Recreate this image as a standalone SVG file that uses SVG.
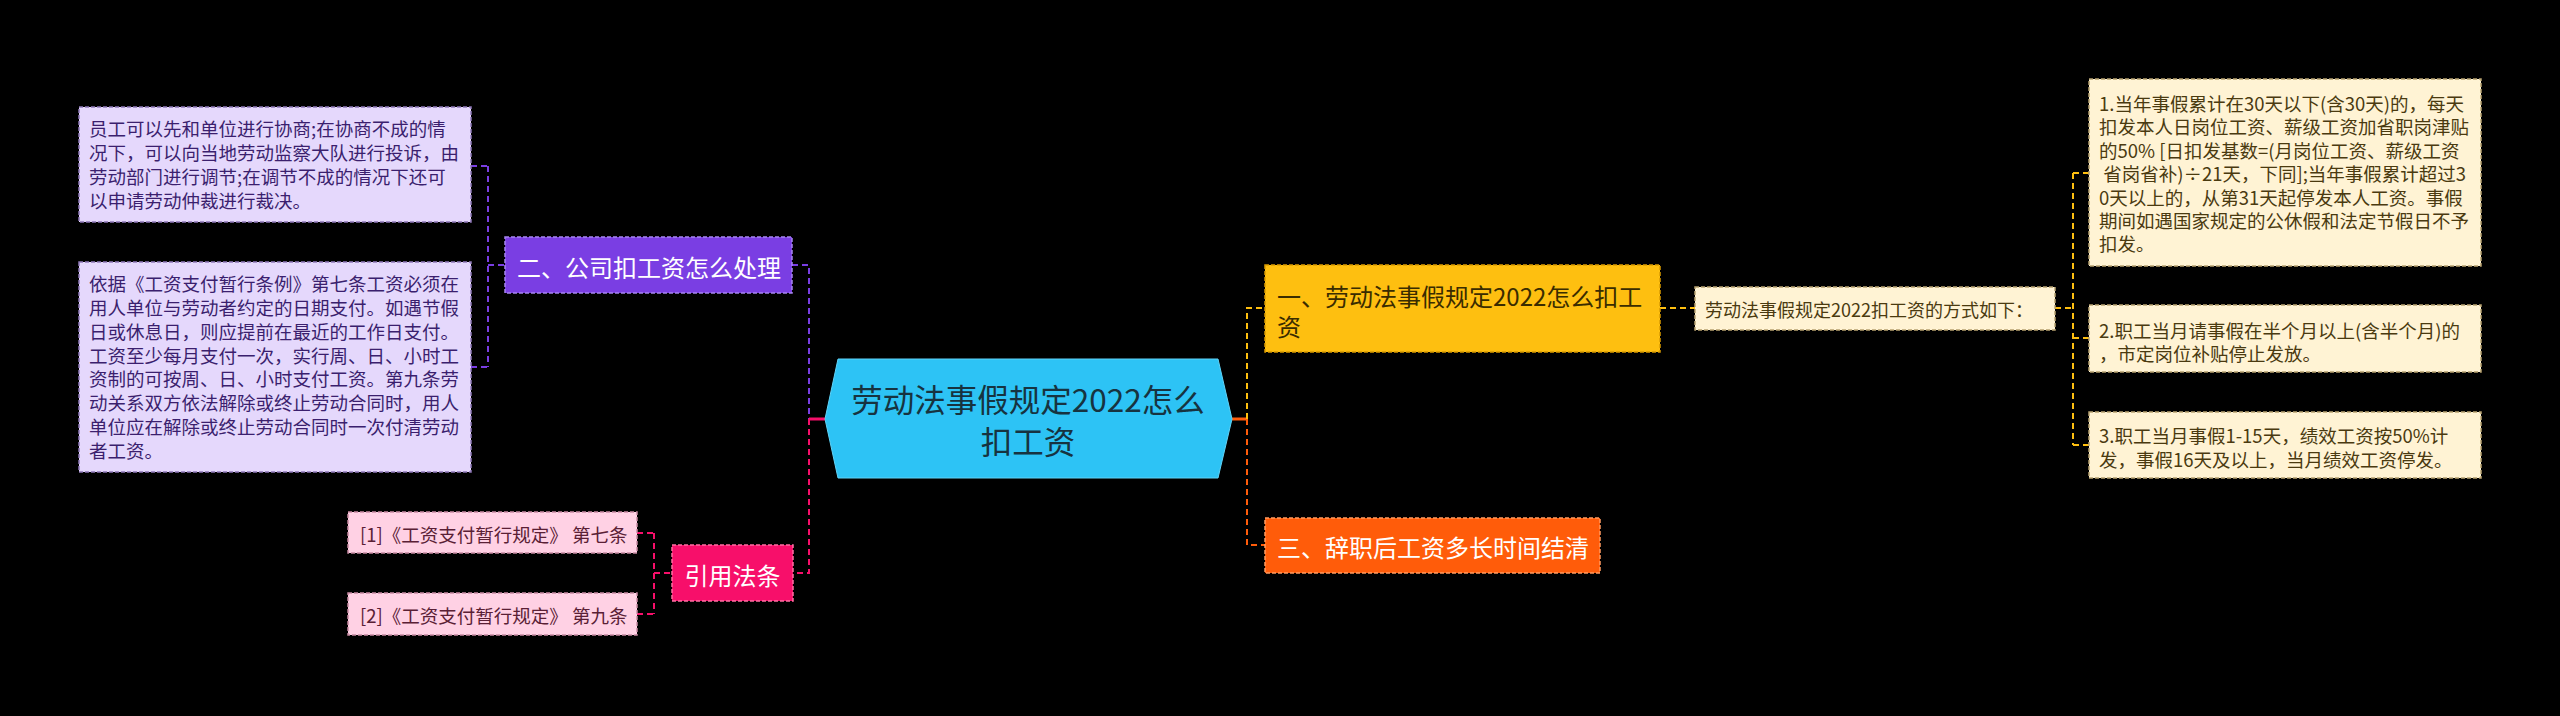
<svg xmlns="http://www.w3.org/2000/svg" width="2560" height="716" viewBox="0 0 2560 716">
<style>
text{font-family:"Noto Sans CJK SC","Noto Sans",sans-serif;dominant-baseline:central}
.leaf{font-size:18.5px}
.main{font-size:24px}
.c{fill:none;stroke-width:2;stroke-dasharray:6 4}
.nb{stroke-width:1.5;stroke-dasharray:4 2}
</style>
<rect x="0" y="0" width="2560" height="716" fill="#000"/>
<g id="connectors">
  <path class="c" stroke="#7A3EE3" d="M471 166 H488 M471 367 H488 M488 166 V367 M488 265 H505"/>
  <path class="c" stroke="#7A3EE3" d="M792 265 H809 V419"/>
  <path class="c" stroke="#F70F6A" d="M809 419 V573 H793"/>
  <path stroke="#F70F6A" stroke-width="3" fill="none" d="M809 419 H825"/>
  <path class="c" stroke="#F70F6A" d="M637 533 H654 M637 614 H654 M654 533 V614 M654 573 H672"/>
  <path stroke="#FF5C0A" stroke-width="3" fill="none" d="M1232 419 H1247"/>
  <path class="c" stroke="#FEBF10" d="M1247 419 V308 H1265"/>
  <path class="c" stroke="#FF5C0A" d="M1247 419 V545 H1265"/>
  <path class="c" stroke="#FEBF10" d="M1660 308 H1695"/>
  <path class="c" stroke="#FEBF10" d="M2055 308 H2073 M2073 173 V445 M2073 173 H2089 M2073 338 H2089 M2073 445 H2089"/>
</g>
<g id="center">
  <polygon points="838,359 1218,359 1232,419 1218,478 838,478 825,419" fill="#2DC3F5" stroke="#5fd3f8" stroke-width="1"/>
  <text x="1028" y="398" text-anchor="middle" font-size="31.5" fill="#173340">劳动法事假规定2022怎么</text>
  <text x="1028" y="440" text-anchor="middle" font-size="31.5" fill="#173340">扣工资</text>
</g>
<g id="n2">
  <rect class="nb" x="505" y="237" width="287" height="56" fill="#7A3EE3" stroke="#a685f0"/>
  <text class="main" x="517" y="266" fill="#fff">二、公司扣工资怎么处理</text>
</g>
<g id="leafA">
  <rect class="nb" x="79" y="107" width="392" height="115" fill="#E5D8FC" stroke="#8f78b8"/>
  <text class="leaf" fill="#3B1F6E"><tspan x="89" y="128">员工可以先和单位进行协商;在协商不成的情</tspan><tspan x="89" y="152">况下，可以向当地劳动监察大队进行投诉，由</tspan><tspan x="89" y="176">劳动部门进行调节;在调节不成的情况下还可</tspan><tspan x="89" y="200">以申请劳动仲裁进行裁决。</tspan></text>
</g>
<g id="leafB">
  <rect class="nb" x="79" y="262" width="392" height="210" fill="#E5D8FC" stroke="#8f78b8"/>
  <text class="leaf" fill="#3B1F6E"><tspan x="89" y="283">依据《工资支付暂行条例》第七条工资必须在</tspan><tspan x="89" y="307">用人单位与劳动者约定的日期支付。如遇节假</tspan><tspan x="89" y="331">日或休息日，则应提前在最近的工作日支付。</tspan><tspan x="89" y="355">工资至少每月支付一次，实行周、日、小时工</tspan><tspan x="89" y="378">资制的可按周、日、小时支付工资。第九条劳</tspan><tspan x="89" y="402">动关系双方依法解除或终止劳动合同时，用人</tspan><tspan x="89" y="426">单位应在解除或终止劳动合同时一次付清劳动</tspan><tspan x="89" y="450">者工资。</tspan></text>
</g>
<g id="ref">
  <rect class="nb" x="672" y="545" width="121" height="56" fill="#F70F6A" stroke="#ff6fa3"/>
  <text class="main" x="732.5" y="574" text-anchor="middle" fill="#fff">引用法条</text>
</g>
<g id="ref1">
  <rect class="nb" x="348" y="512" width="289" height="41" fill="#FFD1E4" stroke="#c88aa3"/>
  <text class="leaf" x="360" y="534" fill="#5a2035">[1]《工资支付暂行规定》 第七条</text>
</g>
<g id="ref2">
  <rect class="nb" x="348" y="593" width="289" height="42" fill="#FFD1E4" stroke="#c88aa3"/>
  <text class="leaf" x="360" y="615" fill="#5a2035">[2]《工资支付暂行规定》 第九条</text>
</g>
<g id="n1">
  <rect class="nb" x="1265" y="265" width="395" height="87" fill="#FEBF10" stroke="#d99a00"/>
  <text class="main" fill="#3a2c00"><tspan x="1277" y="295">一、劳动法事假规定2022怎么扣工</tspan><tspan x="1277" y="325">资</tspan></text>
</g>
<g id="n3">
  <rect class="nb" x="1265" y="518" width="335" height="55" fill="#FF5C0A" stroke="#ff9a60"/>
  <text class="main" x="1277" y="546" fill="#fff">三、辞职后工资多长时间结清</text>
</g>
<g id="method">
  <rect class="nb" x="1695" y="287" width="360" height="43" fill="#FFF3D4" stroke="#b8a270"/>
  <text x="1705" y="309" font-size="18" fill="#4a3a10">劳动法事假规定2022扣工资的方式如下：</text>
</g>
<g id="r1">
  <rect class="nb" x="2089" y="79" width="392" height="187" fill="#FFF3D4" stroke="#b8a270"/>
  <text class="leaf" fill="#4a3a10" xml:space="preserve"><tspan x="2099" y="103">1.当年事假累计在30天以下(含30天)的，每天</tspan><tspan x="2099" y="126.4">扣发本人日岗位工资、薪级工资加省职岗津贴</tspan><tspan x="2099" y="149.8">的50% [日扣发基数=(月岗位工资、薪级工资</tspan><tspan x="2099" y="173.2"> 省岗省补)÷21天，下同];当年事假累计超过3</tspan><tspan x="2099" y="196.6">0天以上的，从第31天起停发本人工资。事假</tspan><tspan x="2099" y="220">期间如遇国家规定的公休假和法定节假日不予</tspan><tspan x="2099" y="243.4">扣发。</tspan></text>
</g>
<g id="r2">
  <rect class="nb" x="2089" y="305" width="392" height="67" fill="#FFF3D4" stroke="#b8a270"/>
  <text class="leaf" fill="#4a3a10"><tspan x="2099" y="330">2.职工当月请事假在半个月以上(含半个月)的</tspan><tspan x="2099" y="353">，市定岗位补贴停止发放。</tspan></text>
</g>
<g id="r3">
  <rect class="nb" x="2089" y="412" width="392" height="66" fill="#FFF3D4" stroke="#b8a270"/>
  <text class="leaf" fill="#4a3a10"><tspan x="2099" y="435">3.职工当月事假1-15天，绩效工资按50%计</tspan><tspan x="2099" y="459">发，事假16天及以上，当月绩效工资停发。</tspan></text>
</g>
</svg>
